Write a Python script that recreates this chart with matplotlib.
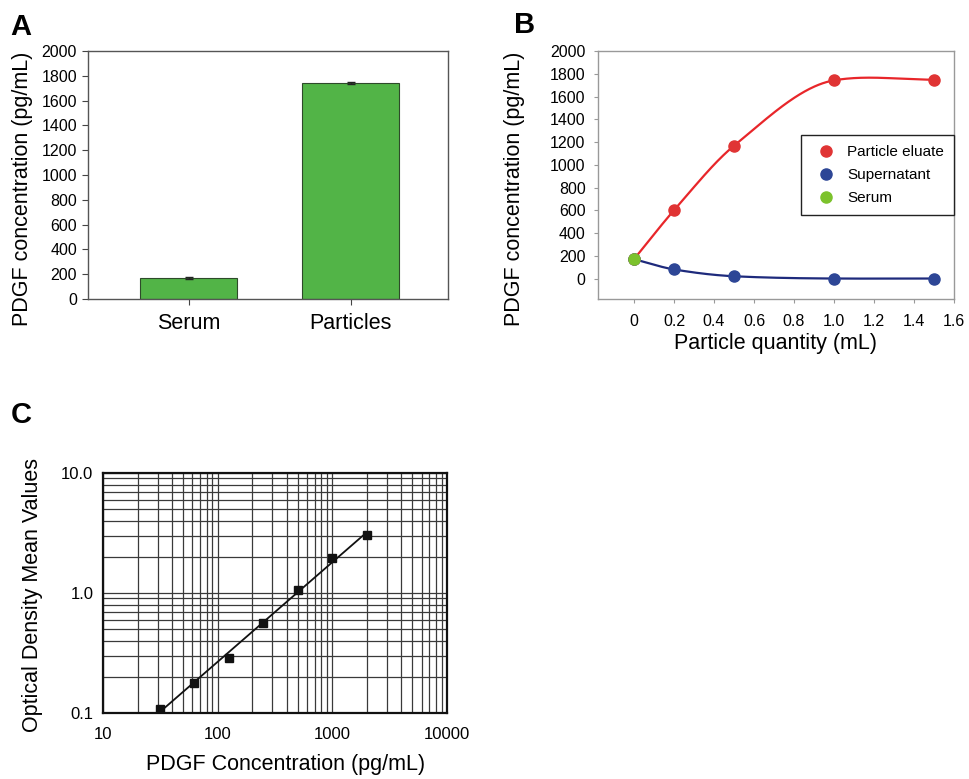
import numpy as np
import matplotlib
matplotlib.use("Agg")
import matplotlib.pyplot as plt
from matplotlib.ticker import FixedLocator, NullFormatter, FixedFormatter

plt.rcParams['font.family'] = ['Liberation Sans', 'DejaVu Sans']

# panel A data
bar_names = ['Serum', 'Particles']
bar_vals = [170, 1743]
bar_err = [5, 10]

# panel B data
qty = np.array([0, 0.2, 0.5, 1.0, 1.5])
eluate = np.array([170, 600, 1167, 1742, 1748])
supernatant = np.array([170, 80, 20, 0, 0])
serum_x = [0]
serum_y = [170]

# panel C data (standard curve)
conc = np.array([31.25, 62.5, 125, 250, 500, 1000, 2000])
od = np.array([0.109, 0.178, 0.29, 0.557, 1.05, 1.97, 3.07])


def smooth_curve(x, y, xs):
    # cubic Hermite through the points; tangents are the mean of
    # Catmull-Rom and PCHIP tangents (mild overshoot, like the original)
    n = len(x)
    h = np.diff(x)
    d = np.diff(y) / h
    mc = np.empty(n)
    mc[1:-1] = (y[2:] - y[:-2]) / (x[2:] - x[:-2])
    mc[0], mc[-1] = d[0], d[-1]
    mp = np.zeros(n)
    for k in range(1, n - 1):
        if d[k - 1] * d[k] > 0:
            w1 = 2 * h[k] + h[k - 1]
            w2 = h[k] + 2 * h[k - 1]
            mp[k] = (w1 + w2) / (w1 / d[k - 1] + w2 / d[k])
    mp[0], mp[-1] = d[0], d[-1]
    m = 0.5 * (mc + mp)
    idx = np.clip(np.searchsorted(x, xs) - 1, 0, n - 2)
    t = (xs - x[idx]) / h[idx]
    h00 = 2 * t ** 3 - 3 * t ** 2 + 1
    h10 = t ** 3 - 2 * t ** 2 + t
    h01 = -2 * t ** 3 + 3 * t ** 2
    h11 = t ** 3 - t ** 2
    return h00 * y[idx] + h10 * h[idx] * m[idx] + h01 * y[idx + 1] + h11 * h[idx] * m[idx + 1]


W, H = 969, 779
fig = plt.figure(figsize=(W / 100, H / 100), dpi=100)


def rect(x0, y0, x1, y1):
    return [x0 / W, 1 - y1 / H, (x1 - x0) / W, (y1 - y0) / H]


# ---------------- A ----------------
axA = fig.add_axes(rect(88, 51, 448, 299))
xpos = np.arange(len(bar_names))
axA.bar(xpos, bar_vals, width=0.6, color='#52b447', edgecolor='#2e4a2a', linewidth=0.8,
        yerr=bar_err, error_kw=dict(ecolor='#222222', capsize=3, elinewidth=1))
axA.set_xlim(-0.62, 1.6)
axA.set_ylim(0, 2000)
axA.set_yticks(np.arange(0, 2001, 200))
axA.set_xticks(xpos)
axA.set_xticklabels(bar_names, fontsize=15.5)
axA.tick_params(axis='y', labelsize=11.5, length=4, color='#444444', pad=4)
axA.tick_params(axis='x', length=4, color='#444444', pad=6)
for s in axA.spines.values():
    s.set_color('#555555')
    s.set_linewidth(1.0)
axA.set_ylabel('PDGF concentration (pg/mL)', fontsize=15.5)
axA.yaxis.set_label_coords(-0.152, 0.444)

# ---------------- B ----------------
axB = fig.add_axes(rect(598, 51, 954, 299))
xs = np.linspace(qty[0], qty[-1], 300)
axB.plot(xs, smooth_curve(qty, eluate, xs), color='#e8262a', lw=1.6)
axB.plot(xs, smooth_curve(qty, supernatant, xs), color='#1e2a7c', lw=1.6)
axB.plot(qty, eluate, 'o', ms=8, color='#e03434', label='Particle eluate')
axB.plot(qty, supernatant, 'o', ms=8, color='#2d4696', label='Supernatant')
axB.plot(serum_x, serum_y, 'o', ms=8, color='#7cc22c', label='Serum')
axB.set_xlim(-0.18, 1.6)
axB.set_ylim(-180, 2000)
axB.set_yticks(np.arange(0, 2001, 200))
bx = [0, 0.2, 0.4, 0.6, 0.8, 1.0, 1.2, 1.4, 1.6]
axB.xaxis.set_major_locator(FixedLocator(bx))
axB.xaxis.set_major_formatter(FixedFormatter(['0', '0.2', '0.4', '0.6', '0.8', '1.0', '1.2', '1.4', '1.6']))
axB.tick_params(axis='both', labelsize=11.5, length=3, color='#999999')
axB.tick_params(axis='y', pad=6)
axB.tick_params(axis='x', pad=8)
for s in axB.spines.values():
    s.set_color('#999999')
    s.set_linewidth(1.0)
axB.set_xlabel('Particle quantity (mL)', fontsize=15.5, labelpad=3)
axB.set_ylabel('PDGF concentration (pg/mL)', fontsize=15.5)
axB.yaxis.set_label_coords(-0.205, 0.444)
leg = axB.legend(loc='upper right', bbox_to_anchor=(1.0, 0.661), borderaxespad=0,
                 fontsize=11, fancybox=False, framealpha=1, edgecolor='#222222',
                 labelspacing=0.6, handletextpad=0.4, borderpad=0.65)
leg.get_frame().set_linewidth(1.0)

# ---------------- C ----------------
axC = fig.add_axes(rect(103, 473, 447, 713))
axC.set_xscale('log')
axC.set_yscale('log')
axC.set_xlim(10, 10000)
axC.set_ylim(0.1, 10)
axC.grid(True, which='both', color='#3a3a3a', lw=0.9)
axC.set_axisbelow(True)
k, b0 = np.polyfit(np.log10(conc), np.log10(od), 1)
fit_x = np.array([conc[0], conc[-1]])
axC.plot(fit_x, 10 ** (b0 + k * np.log10(fit_x)), color='#111111', lw=1.3)
axC.plot(conc, od, 's', ms=6, color='#111111')
axC.xaxis.set_major_locator(FixedLocator([10, 100, 1000, 10000]))
axC.xaxis.set_major_formatter(FixedFormatter(['10', '100', '1000', '10000']))
axC.yaxis.set_major_locator(FixedLocator([0.1, 1, 10]))
axC.yaxis.set_major_formatter(FixedFormatter(['0.1', '1.0', '10.0']))
axC.xaxis.set_minor_formatter(NullFormatter())
axC.yaxis.set_minor_formatter(NullFormatter())
axC.tick_params(axis='both', which='both', length=0, labelsize=12)
axC.tick_params(axis='x', pad=10)
axC.tick_params(axis='y', pad=7)
for s in axC.spines.values():
    s.set_color('#111111')
    s.set_linewidth(1.6)
axC.set_xlabel('PDGF Concentration (pg/mL)', fontsize=15.5, labelpad=10)
axC.xaxis.set_label_coords(0.532, -0.17)
axC.set_ylabel('Optical Density Mean Values', fontsize=15.5)
axC.yaxis.set_label_coords(-0.174, 0.49)

# panel letters
for lab, x, y in [('A', 10, 13), ('B', 514, 11), ('C', 11, 401)]:
    fig.text(x / W, 1 - y / H, lab, fontsize=21, fontweight='bold', va='top', ha='left')

fig.savefig('out.png', dpi=100)
